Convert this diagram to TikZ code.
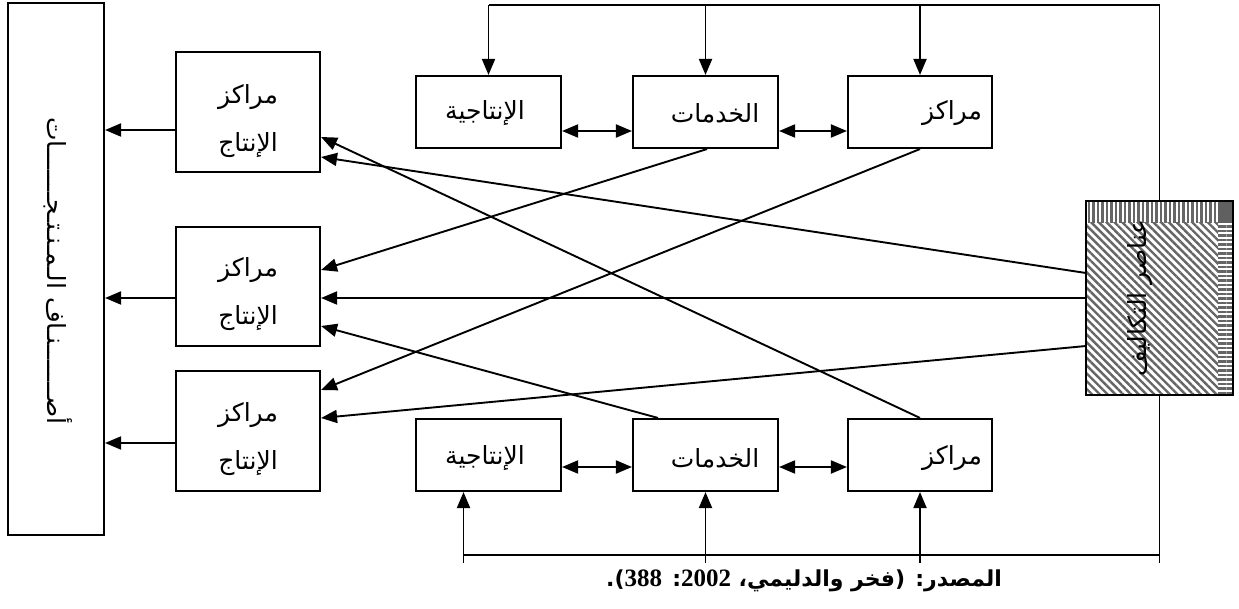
\documentclass[tikz,border=0pt]{standalone}
\usepackage{fontspec}
\usetikzlibrary{arrows.meta,patterns.meta,calc}
\TeXXeTstate=1
\newfontfamily\arabicfont[Script=Arabic]{DejaVu Sans}
\newfontfamily\latinserif{Liberation Serif}
\begin{document}
\begin{tikzpicture}[x=1pt,y=-1pt,
  box/.style={draw, line width=2.1pt, inner sep=0pt},
  pbox/.style={box, minimum width=144pt, minimum height=120pt},
  rbox/.style={box, minimum width=145pt, minimum height=72pt},
  wire/.style={line width=1.9pt},
  conn/.style={wire, -{Triangle[length=16pt,width=13pt]}},
  dconn/.style={wire, {Triangle[length=16pt,width=13pt]}-{Triangle[length=16pt,width=13pt]}},
  lbl/.style={font=\arabicfont\fontsize{25}{28}\selectfont, inner sep=0pt},
]
\useasboundingbox (0,0) rectangle (1239,609);

% nodes
\node[box, minimum width=96pt, minimum height=532pt] (L) at (56,269) {};
\node[pbox] (p1) at (248,112) {};
\node[pbox, minimum height=119pt] (p2) at (248,286.5) {};
\node[pbox] (p3) at (248,431) {};
\node[rbox] (t1) at (488.5,112) {};
\node[rbox] (t2) at (705.5,112) {};
\node[rbox, minimum width=144pt] (t3) at (920,112) {};
\node[rbox] (b1) at (488.5,455) {};
\node[rbox] (b2) at (705.5,455) {};
\node[rbox, minimum width=144pt] (b3) at (920,455) {};
\node[box, minimum width=145pt, minimum height=192pt] (H) at (1159.5,298) {};

% hatched fill
\fill[white] (H.south west) rectangle (H.north east);
\fill[pattern={Lines[angle=-45,distance=5.5pt,line width=2.4pt]}, pattern color=gray!80!black]
  (H.south west) rectangle ($(H.north east)+(-15,22)$);
\fill[pattern={Lines[angle=90,distance=4.5pt,line width=2.2pt]}, pattern color=gray!80!black]
  (H.north west) rectangle ($(H.north east)+(-15,22)$);
\fill[pattern={Lines[angle=0,distance=4.5pt,line width=2.2pt]}, pattern color=gray!80!black]
  ($(H.north east)+(-15,22)$) rectangle (H.south east);
\fill[gray!75!black] ($(H.north east)+(-15,0)$) rectangle ($(H.north east)+(0,22)$);
\draw[line width=2.1pt] (H.south west) rectangle (H.north east);

% texts
\node[lbl] at (248,97) {\beginR مراكز\endR};
\node[lbl] at (248,145) {\beginR الإنتاج\endR};
\node[lbl] at (248,270) {\beginR مراكز\endR};
\node[lbl] at (248,318) {\beginR الإنتاج\endR};
\node[lbl] at (248,415) {\beginR مراكز\endR};
\node[lbl] at (248,463) {\beginR الإنتاج\endR};
\node[lbl] at (485,113) {\beginR الإنتاجية\endR};
\node[lbl] at (715,113) {\beginR الخدمات\endR};
\node[lbl] at (952,113) {\beginR مراكز\endR};
\node[lbl] at (485,458) {\beginR الإنتاجية\endR};
\node[lbl] at (715,458) {\beginR الخدمات\endR};
\node[lbl] at (952,458) {\beginR مراكز\endR};
\node[lbl, rotate=-90] at (58,271) {\beginR أصـــــــنـاف الـمـنـتـجـــــــات\endR};
\node[lbl, rotate=90] at (1140,298) {\beginR عناصر التكاليف\endR};

% top feedback loop
\coordinate (topY) at (0,5);
\draw[wire] (H.north) |- (t1.north |- topY);
\draw[conn] (t1.north |- topY) -- (t1.north);
\draw[conn] (t2.north |- topY) -- (t2.north);
\draw[conn] (t3.north |- topY) -- (t3.north);

% bottom feedback loop
\coordinate (botY) at (0,555);
\coordinate (botE) at (0,563);
\draw[wire] (H.south) -- (H.south |- botE);
\draw[wire] (H.south |- botY) -- ($(b1.south |- botY)+(-25,0)$);
\draw[conn] ($(b1.south |- botE)+(-25,0)$) -- ($(b1.south)+(-25,0)$);
\draw[conn] (b2.south |- botE) -- (b2.south);
\draw[conn] (b3.south |- botE) -- (b3.south);

% row double arrows
\draw[dconn] ($(t1.east)+(0,19)$) -- ($(t2.west)+(0,19)$);
\draw[dconn] ($(t2.east)+(0,19)$) -- ($(t3.west)+(0,19)$);
\draw[dconn] ($(b1.east)+(0,12)$) -- ($(b2.west)+(0,12)$);
\draw[dconn] ($(b2.east)+(0,12)$) -- ($(b3.west)+(0,12)$);

% to products
\draw[conn] ($(p1.west)+(0,18)$) -- ($(L.east |- p1.west)+(0,18)$);
\draw[conn] ($(p2.west)+(0,11.5)$) -- ($(L.east |- p2.west)+(0,11.5)$);
\draw[conn] ($(p3.west)+(0,12)$) -- ($(L.east |- p3.west)+(0,12)$);

% diagonals
\draw[conn] ($(t2.south)+(1.5,0)$) -- ($(p2.east)+(0,-16.5)$);
\draw[conn] (t3.south) -- ($(p3.east)+(0,-41)$);
\draw[conn] (b3.north) -- ($(p1.east)+(0,25)$);
\draw[conn] ($(H.west)+(0,-25)$) -- ($(p1.east)+(0,45)$);
\draw[conn] (H.west) -- ($(p2.east)+(0,11.5)$);
\draw[conn] ($(b2.north)+(-47.5,0)$) -- ($(p2.east)+(0,39.5)$);
\draw[conn] ($(H.west)+(0,48)$) -- ($(p3.east)+(0,-13)$);

% caption
\node[anchor=east, inner sep=0pt, font=\arabicfont\bfseries\fontsize{22}{24}\selectfont] (cap) at (1002,581)
  {\beginR المصدر: (فخر والدليمي، \beginL{\latinserif\bfseries\fontsize{25}{26}\selectfont 2002}\endL: \beginL{\latinserif\bfseries\fontsize{25}{26}\selectfont 388}\endL).\endR};
\end{tikzpicture}
\end{document}
